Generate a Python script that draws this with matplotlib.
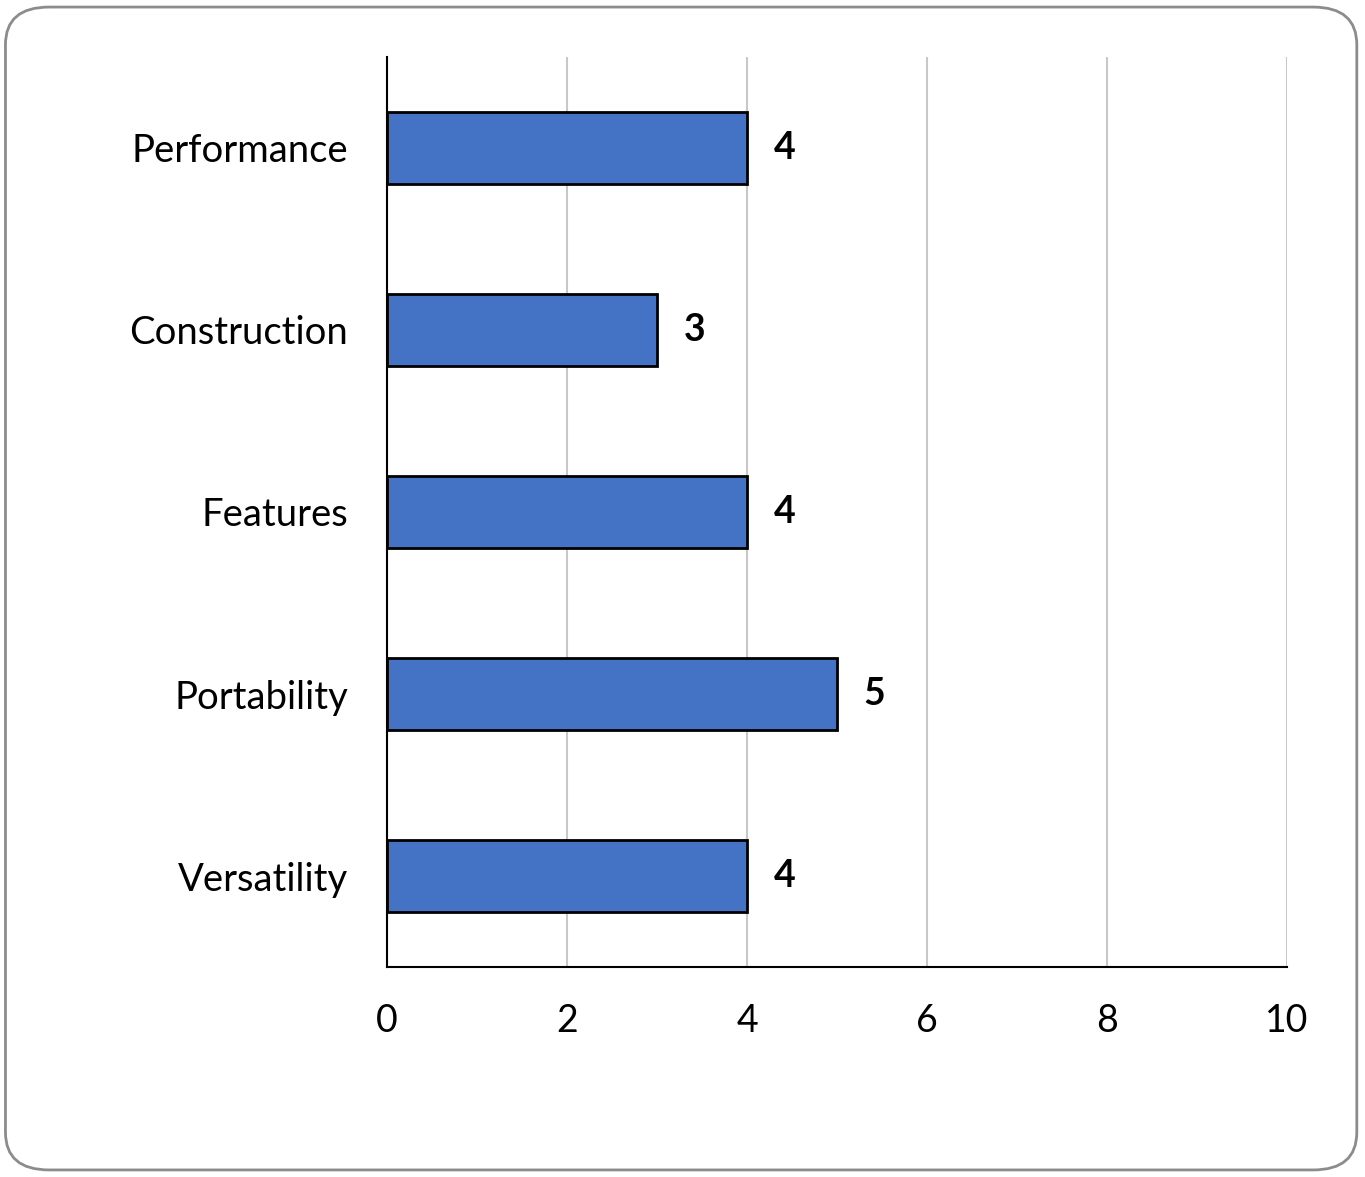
import matplotlib.pyplot as plt
from matplotlib.patches import FancyBboxPatch

categories = ["Performance", "Construction", "Features", "Portability", "Versatility"]
scores = [4, 3, 4, 5, 4]
xticks = [0, 2, 4, 6, 8, 10]

plt.rcParams["font.family"] = ["Lato", "DejaVu Sans"]

fig = plt.figure(figsize=(13.65, 11.77), dpi=100)

# rounded frame around the chart
frame = FancyBboxPatch((0.004, 0.006), 0.99, 0.988,
                       boxstyle="round,pad=0,rounding_size=0.032",
                       transform=fig.transFigure, facecolor="white",
                       edgecolor="#8c8c8c", linewidth=2, zorder=-1)
fig.patches.append(frame)

ax = fig.add_axes([0.2835, 0.1784, 0.6594, 0.7732])
ax.set_facecolor("none")

pos = list(range(len(categories)))
bars = ax.barh(pos, scores, height=0.4, color="#4472C4",
               edgecolor="black", linewidth=2, zorder=3)

ax.set_ylim(len(categories) - 0.5, -0.5)
ax.set_xlim(0, 10)
ax.set_yticks(pos)
ax.set_yticklabels(categories, fontsize=27.5)
ax.set_xticks(xticks)
ax.set_xticklabels([str(t) for t in xticks], fontsize=27)
ax.tick_params(axis="y", length=0, pad=28)
ax.tick_params(axis="x", length=0, pad=26)

ax.bar_label(bars, labels=[str(s) for s in scores], padding=19,
             fontsize=27, fontweight="bold")

ax.grid(axis="x", color="#c8c8c8", linewidth=1.5, zorder=0)
for side in ["top", "right"]:
    ax.spines[side].set_visible(False)
for side in ["left", "bottom"]:
    ax.spines[side].set_linewidth(1.5)
    ax.spines[side].set_zorder(4)

fig.savefig("out.png", dpi=100)
